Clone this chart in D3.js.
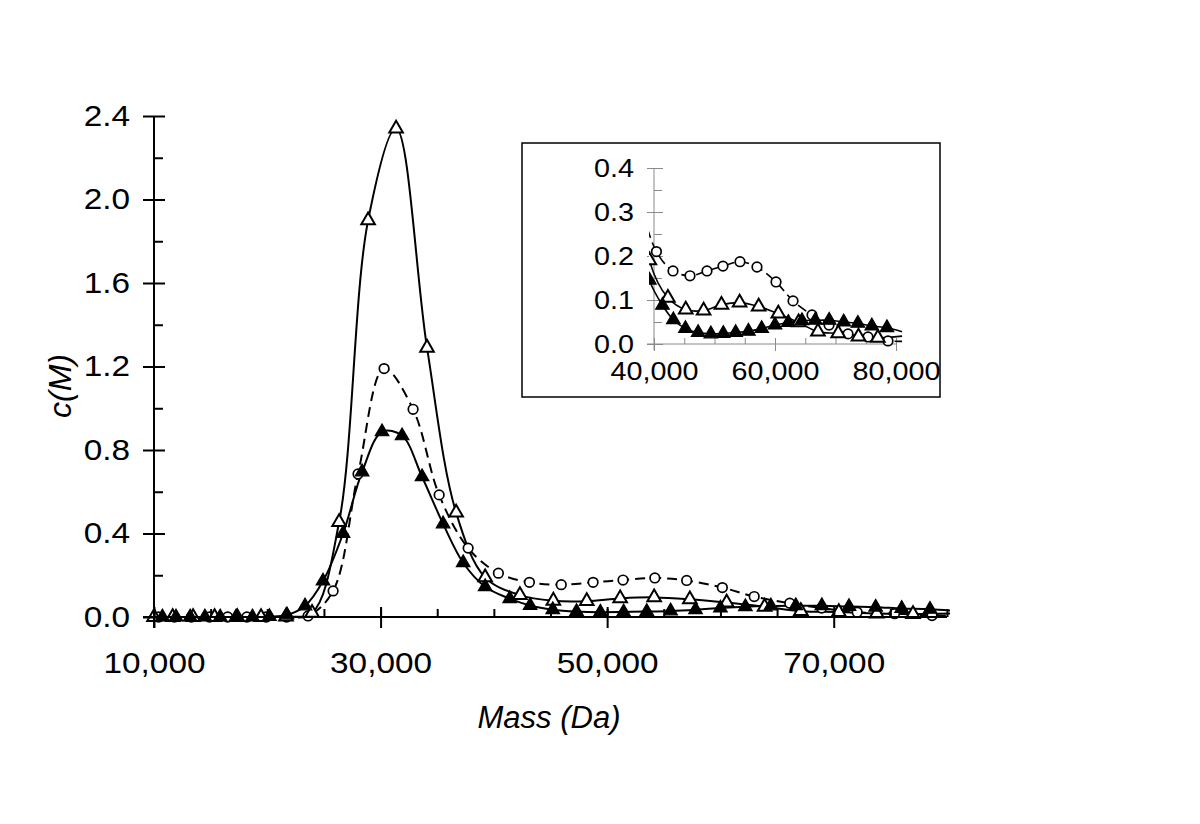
<!DOCTYPE html>
<html><head><meta charset="utf-8">
<script src="https://cdn.jsdelivr.net/npm/d3@7"></script>
<style>
body{margin:0;background:#fff}
text{font-family:Arial,"Liberation Sans",sans-serif;fill:#000}
</style>
</head><body>
<svg id="chart" width="1200" height="824"></svg>
<script>
// ---------- data ----------
const massOpenTri = [10000,11650,13450,15350,17350,19450,21650,23950,26340,28900,31370,34100,36670,39230,42300,45250,48200,51150,54150,57300,60550,63900,67100,70450,73800,77000];
const valOpenTri  = [0,0,0,0,0,0,0.002,0.02,0.455,1.90,2.34,1.29,0.50,0.19,0.105,0.078,0.076,0.089,0.094,0.085,0.069,0.049,0.028,0.024,0.017,0.014];

const massFilledTri = [10740,11940,13190,14490,15840,17240,18690,20190,21740,23330,24920,26690,28370,30130,31900,33660,35520,37290,39230,41400,43200,45200,47300,49400,51450,53500,55600,57800,60000,62200,64450,66650,68950,71350,73700,76000,78500];
const valFilledTri  = [0,0,0,0,0,0,0,0.002,0.01,0.053,0.172,0.40,0.695,0.887,0.868,0.672,0.446,0.26,0.145,0.088,0.055,0.035,0.026,0.023,0.024,0.026,0.029,0.035,0.043,0.049,0.053,0.054,0.054,0.05,0.047,0.041,0.037];

const massCircle = [10400,11800,13300,14900,16500,18200,19900,21700,23600,25810,28010,30310,32870,35170,37730,40400,43140,45950,48760,51400,54210,57020,60170,62980,66120,68930,72070,75370,78680];
const valCircle  = [0,0,0,0,0,0,0,0,0.005,0.125,0.685,1.19,0.995,0.585,0.33,0.21,0.166,0.155,0.166,0.177,0.187,0.175,0.141,0.098,0.066,0.043,0.023,0.016,0.007];

// fitted-curve end points (where the drawn curves stop)
const fitStartMass = 10000;
const fitEndMass = 81000;
const fitEndOpenTri = 0.018, fitEndFilledTri = 0.028, fitEndCircle = 0.006;

const xMajorMain = [10000,30000,50000,70000];
const xMinorMain = d3.range(10000, 80001, 5000);
const yMajorMain = [0,0.4,0.8,1.2,1.6,2.0,2.4];
const yMinorMain = [0.2,0.6,1.0,1.4,1.8,2.2];
const xMajorInset = [40000,60000,80000];
const xMinorInset = d3.range(40000, 80001, 5000);
const yMajorInset = [0,0.1,0.2,0.3,0.4];
const yMinorInset = [0.05,0.15,0.25,0.35];

const xTitle = "Mass (Da)";
const yTitle = "c(M)";

// ---------- build ----------
const svg = d3.select("#chart");
const FONT = "Arial, 'Liberation Sans', sans-serif";
const STRETCH = 1.15;
const zip = (ms, vs) => ms.map((m,i)=>({m, v: vs[i]}));
const series = [
  {name:"circle", pts: zip(massCircle, valCircle), end: fitEndCircle, dash:true, sym:"circle"},
  {name:"open", pts: zip(massOpenTri, valOpenTri), end: fitEndOpenTri, dash:false, sym:"openTri"},
  {name:"filled", pts: zip(massFilledTri, valFilledTri), end: fitEndFilledTri, dash:false, sym:"filledTri"}
];
series.forEach(s=>{
  s.line = [{m:fitStartMass, v:0}, ...s.pts.filter(p=>p.m>fitStartMass), {m:fitEndMass, v:s.end}];
});

function drawPanel(g, x, y, clipId, clipRect, lineW, dash) {
  g.append("clipPath").attr("id", clipId).append("rect")
    .attr("x", clipRect[0]).attr("y", clipRect[1]).attr("width", clipRect[2]).attr("height", clipRect[3]);
  const plot = g.append("g").attr("clip-path", `url(#${clipId})`);
  const line = d3.line().x(d=>x(d.m)).y(d=>y(d.v)).curve(d3.curveCatmullRom.alpha(0.5));
  series.forEach(s=>{
    plot.append("path").attr("d", line(s.line)).attr("fill","none")
      .attr("stroke","#000").attr("stroke-width", lineW)
      .attr("stroke-dasharray", s.dash ? dash : null);
  });
  const tri = d3.symbol(d3.symbolTriangle, 80)();
  const circ = d3.symbol(d3.symbolCircle, 72)();
  series.forEach(s=>{
    const sel = plot.append("g").selectAll("path").data(s.pts).join("path")
      .attr("transform", d=>`translate(${x(d.m)},${y(d.v)})`);
    if (s.sym === "circle") {
      sel.attr("d", circ).attr("fill","#fff").attr("stroke","#000").attr("stroke-width",1.7);
    } else if (s.sym === "openTri") {
      sel.attr("d", tri).attr("fill","#fff").attr("stroke","#000").attr("stroke-width",2);
    } else {
      sel.attr("d", tri).attr("fill","#000").attr("stroke","#000").attr("stroke-width",1.2);
    }
  });
}

function styleAxis(g, color, w) {
  g.select(".domain").remove();
  g.selectAll("line").attr("stroke", color).attr("stroke-width", w);
}
function styleLabels(g, size) {
  g.selectAll("text").each(function(){
    const t = d3.select(this);
    const tx = +t.attr("x") || 0;
    t.attr("x", 0).attr("transform", `translate(${tx},0) scale(${STRETCH},1)`)
     .attr("font-size", size).attr("font-family", FONT).attr("fill", "#000");
  });
}

// ---------- main chart ----------
const x = d3.scaleLinear().domain([10000,80000]).range([154,947]);
const y = d3.scaleLinear().domain([0,2.4]).range([617,116]);
const main = svg.append("g");
drawPanel(main, x, y, "clipMain", [140,100,810,530], 2, "10,6");

// x axis
main.append("line").attr("x1",143).attr("x2",x(80000)).attr("y1",y(0)).attr("y2",y(0))
  .attr("stroke","#000").attr("stroke-width",2);
main.append("g").attr("transform",`translate(0,${y(0)})`)
  .call(d3.axisBottom(x).tickValues(xMinorMain).tickSize(-8).tickFormat(""))
  .call(g=>styleAxis(g,"#000",2));
main.append("g").attr("transform",`translate(0,${y(0)})`)
  .call(d3.axisBottom(x).tickValues(xMajorMain).tickSize(-10).tickFormat(""))
  .call(g=>styleAxis(g,"#000",2));
main.append("g").attr("transform",`translate(0,${y(0)})`)
  .call(d3.axisBottom(x).tickValues(xMajorMain).tickSize(11).tickPadding(24).tickFormat(d3.format(",")))
  .call(g=>styleAxis(g,"#000",2))
  .call(g=>styleLabels(g, 29));
// y axis
main.append("line").attr("x1",x(10000)).attr("x2",x(10000)).attr("y1",y(2.4)).attr("y2",628)
  .attr("stroke","#000").attr("stroke-width",2);
main.append("g").attr("transform",`translate(${x(10000)},0)`)
  .call(d3.axisLeft(y).tickValues(yMinorMain).tickSize(-9).tickFormat(""))
  .call(g=>styleAxis(g,"#000",2));
main.append("g").attr("transform",`translate(${x(10000)},0)`)
  .call(d3.axisLeft(y).tickValues(yMajorMain).tickSize(-11).tickFormat(""))
  .call(g=>styleAxis(g,"#000",2));
main.append("g").attr("transform",`translate(${x(10000)},0)`)
  .call(d3.axisLeft(y).tickValues(yMajorMain).tickSize(11).tickPadding(13).tickFormat(d3.format(".1f")))
  .call(g=>styleAxis(g,"#000",2))
  .call(g=>styleLabels(g, 29));

// titles
svg.append("text").attr("x",549).attr("y",728).attr("text-anchor","middle")
  .attr("font-size",31).attr("font-style","italic").text(xTitle);
svg.append("text").attr("transform","translate(71,386) rotate(-90)").attr("text-anchor","middle")
  .attr("font-size",32).attr("font-style","italic").text(yTitle);

// ---------- inset ----------
const inset = svg.append("g");
inset.append("rect").attr("x",522).attr("y",143).attr("width",418).attr("height",254)
  .attr("fill","#fff").attr("stroke","#000").attr("stroke-width",1.5);
const xi = d3.scaleLinear().domain([40000,80000]).range([654,896]);
const yi = d3.scaleLinear().domain([0,0.4]).range([344,168]);
const axisGray = "#8a8a8a";
inset.append("line").attr("x1",xi(40000)).attr("x2",xi(40000)).attr("y1",yi(0.4)).attr("y2",350)
  .attr("stroke",axisGray).attr("stroke-width",1);
inset.append("line").attr("x1",647).attr("x2",xi(80000)).attr("y1",yi(0)).attr("y2",yi(0))
  .attr("stroke",axisGray).attr("stroke-width",1);
inset.append("g").attr("transform",`translate(${xi(40000)},0)`)
  .call(d3.axisLeft(yi).tickValues(yMinorInset).tickSize(-8).tickFormat(""))
  .call(g=>styleAxis(g,axisGray,1));
inset.append("g").attr("transform",`translate(${xi(40000)},0)`)
  .call(d3.axisLeft(yi).tickValues(yMajorInset).tickSize(-9).tickFormat(""))
  .call(g=>styleAxis(g,axisGray,1));
inset.append("g").attr("transform",`translate(${xi(40000)},0)`)
  .call(d3.axisLeft(yi).tickValues(yMajorInset).tickSize(7).tickPadding(13).tickFormat(d3.format(".1f")))
  .call(g=>styleAxis(g,axisGray,1))
  .call(g=>styleLabels(g, 25));
inset.append("g").attr("transform",`translate(0,${yi(0)})`)
  .call(d3.axisBottom(xi).tickValues(xMinorInset).tickSize(-6).tickFormat(""))
  .call(g=>styleAxis(g,axisGray,1));
inset.append("g").attr("transform",`translate(0,${yi(0)})`)
  .call(d3.axisBottom(xi).tickValues(xMajorInset).tickSize(7).tickPadding(11).tickFormat(d3.format(",")))
  .call(g=>styleAxis(g,axisGray,1))
  .call(g=>styleLabels(g, 25));
drawPanel(inset, xi, yi, "clipInset", [649,150,254,200], 1.6, "10,5");
</script>
</body></html>
